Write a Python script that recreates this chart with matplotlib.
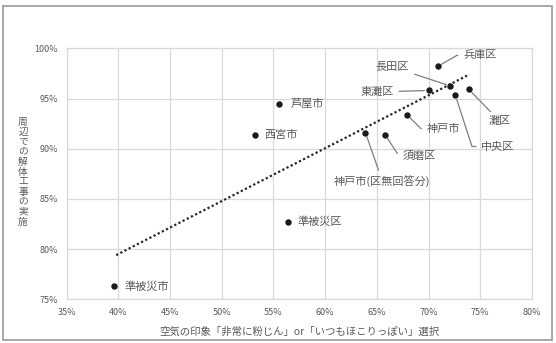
import matplotlib
matplotlib.use("Agg")
import matplotlib.pyplot as plt
from matplotlib.patches import Rectangle
import numpy as np

plt.rcParams['font.family'] = ['Noto Sans CJK JP', 'DejaVu Sans']

names = ["準被災市", "西宮市", "芦屋市", "準被災区", "神戸市(区無回答分)", "須磨区",
         "神戸市", "東灘区", "兵庫区", "長田区", "中央区", "灘区"]
x_vals = [39.6, 53.2, 55.55, 56.45, 63.9, 65.8, 67.9, 70.0, 70.9, 72.1, 72.6, 73.9]
y_vals = [76.3, 91.4, 94.5, 82.7, 91.6, 91.4, 93.4, 95.8, 98.2, 96.25, 95.3, 95.9]
trend_x = [39.8, 73.95]
trend_y = [79.4, 97.4]
x_ticks = [35, 40, 45, 50, 55, 60, 65, 70, 75, 80]
y_ticks = [75, 80, 85, 90, 95, 100]
x_title = "空気の印象「非常に粉じん」or「いつもほこりっぽい」選択"
y_title = "周辺での解体工事の実施"

GRAY = "#595959"
GRID = "#d9d9d9"

fig = plt.figure(figsize=(5.56, 3.43), dpi=100)
fig.patch.set_facecolor("white")
fig.patches.append(Rectangle((3/556, 3/343), 549/556, 334/343, transform=fig.transFigure,
                             fill=False, edgecolor="#a0a0a0", lw=1.3))
ax = fig.add_axes([66.5/556, 1-299.3/343, (532-66.5)/556, (299.3-48.3)/343])
ax.set_xlim(35, 80)
ax.set_ylim(75, 100)
ax.set_xticks(x_ticks)
ax.set_yticks(y_ticks)
ax.set_xticklabels([f"{v}%" for v in x_ticks])
ax.set_yticklabels([f"{v}%" for v in y_ticks])
ax.tick_params(length=0, labelsize=6.5, labelcolor=GRAY, pad=6)
ax.grid(True, color=GRID, lw=0.9)
ax.set_axisbelow(True)
for s in ax.spines.values():
    s.set_color(GRID)
    s.set_linewidth(0.9)

ax.plot(trend_x, trend_y, linestyle=(0, (1, 1.1)), color="#262626", lw=1.6, zorder=2)
ax.plot(x_vals, y_vals, "o", color="#1a1a1a", ms=3.6, zorder=3)

# label offsets in pixels (dx, dy), alignment, connection
labels = {
    "準被災市": ((10.5, 0), "left", None),
    "西宮市": ((10, 0), "left", None),
    "芦屋市": ((12, 0), "left", None),
    "準被災区": ((9.5, 0), "left", None),
    "神戸市(区無回答分)": ((17, -49), "center", "line"),
    "須磨区": ((17, -21), "left", "angle,angleA=0,angleB=-57,rad=0"),
    "神戸市": ((20, -14), "left", "angle,angleA=0,angleB=-45,rad=0"),
    "東灘区": ((-35, -1.5), "right", "line"),
    "兵庫区": ((25.5, 11), "left", "angle,angleA=0,angleB=30,rad=0"),
    "長田区": ((-41, 19), "right", "line"),
    "中央区": ((26, -51), "left", "angle,angleA=0,angleB=-72,rad=0"),
    "灘区": ((20, -32), "left", "line"),
}

for n, xv, yv in zip(names, x_vals, y_vals):
    (dx, dy), ha, conn = labels[n]
    if conn is None:
        ax.annotate(n, (xv, yv), xytext=(dx, dy), textcoords="offset pixels",
                    ha=ha, va="center", fontsize=8, color=GRAY)
    else:
        ap = dict(arrowstyle="-", color="#7f7f7f", lw=0.9, shrinkA=2, shrinkB=3)
        if conn != "line":
            ap["connectionstyle"] = conn
        ax.annotate(n, (xv, yv), xytext=(dx, dy), textcoords="offset pixels",
                    ha=ha, va="center", fontsize=8, color=GRAY, arrowprops=ap)

fig.text(299/556, 1-331.7/343, x_title, ha="center", va="center", fontsize=7.5, color=GRAY)
fig.text(23/556, 1-171.5/343, "\n".join(y_title), ha="center", va="center",
         fontsize=7, color=GRAY, linespacing=1.0)

fig.savefig("out.png", dpi=100)
